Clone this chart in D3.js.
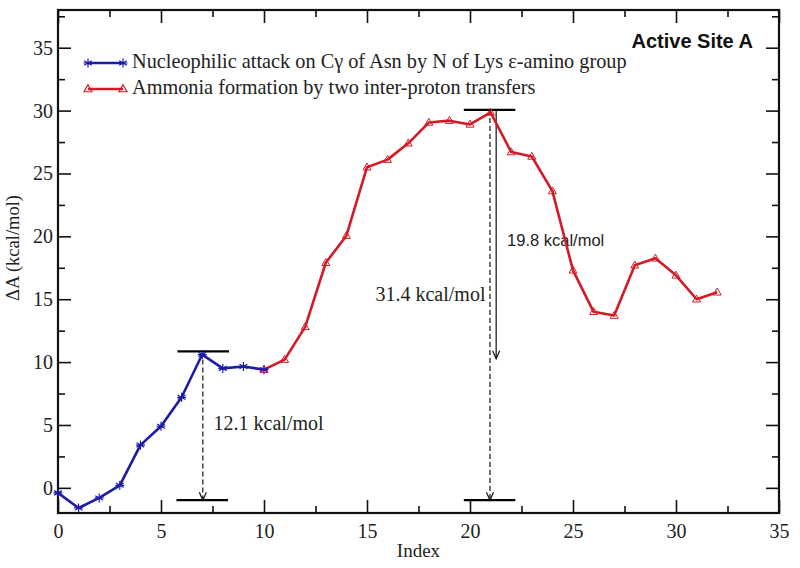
<!DOCTYPE html>
<html>
<head>
<meta charset="utf-8">
<script src="https://cdn.jsdelivr.net/npm/d3@7"></script>
<style>
  body { margin: 0; background: #fff; }
  svg { display: block; }
</style>
</head>
<body>
<svg id="chart" width="800" height="568"></svg>
<script>
// series 1: nucleophilic attack (index 0..10)
const blueIndex = [0, 1, 2, 3, 4, 5, 6, 7, 8, 9, 10];
const blueValues = [-0.4, -1.6, -0.8, 0.2, 3.4, 4.9, 7.2, 10.6, 9.5, 9.65, 9.4];

// series 2: ammonia formation (index 10..32)
const redIndex = [10, 11, 12, 13, 14, 15, 16, 17, 18, 19, 20, 21, 22, 23, 24, 25, 26, 27, 28, 29, 30, 31, 32];
const redValues = [9.4, 10.2, 12.8, 17.9, 20.05, 25.5, 26.1, 27.4, 29.05, 29.2, 28.9, 29.85, 26.7, 26.35, 23.6, 17.3, 14.0, 13.7, 17.7, 18.25, 16.9, 15.0, 15.55];

const legendLabels = [
    "Nucleophilic attack on C\u03b3 of Asn by N of Lys \u03b5-amino group",
    "Ammonia formation by two inter-proton transfers"
];

const xTicks = [0, 5, 10, 15, 20, 25, 30, 35];
const yTicks = [0, 5, 10, 15, 20, 25, 30, 35];

// energy barrier markers
const barrierLevels = [
    {x0: 5.8, x1: 8.3, y: 10.85},
    {x0: 5.75, x1: 8.25, y: -0.98},
    {x0: 19.7, x1: 22.2, y: 30.05},
    {x0: 19.7, x1: 22.2, y: -0.98}
];
const barrierArrows = [
    {x: 7.03, from: 10.85, to: -0.98, dashed: true},
    {x: 20.97, from: 30.05, to: -0.98, dashed: true},
    {x: 21.27, from: 30.0, to: 10.26, dashed: false}
];
const barrierLabels = [
    {x: 7.55, y: 4.95, text: "12.1 kcal/mol", anchor: "start", font: "'Liberation Serif', 'Times New Roman', serif", size: 20},
    {x: 20.75, y: 15.2, text: "31.4 kcal/mol", anchor: "end", font: "'Liberation Serif', 'Times New Roman', serif", size: 20},
    {x: 21.8, y: 19.6, text: "19.8 kcal/mol", anchor: "start", font: "'Liberation Sans', Arial, sans-serif", size: 16.5}
];

const blueColor = "#1c1ca8";
const redColor = "#d41a24";
const serif = "'Liberation Serif', 'Times New Roman', serif";

const margin = {top: 10, right: 21, bottom: 55, left: 58};
const width = 800, height = 568;

const svg = d3.select("#chart");

const x = d3.scaleLinear().domain([0, 35]).range([margin.left, width - margin.right]);
const y = d3.scaleLinear().domain([-2, 38]).range([height - margin.bottom, margin.top]);

const minorX = [2.5, 7.5, 12.5, 17.5, 22.5, 27.5, 32.5];
const minorY = [2.5, 7.5, 12.5, 17.5, 22.5, 27.5, 32.5, 37.5];

// axes with inward ticks
const axisG = svg.append("g").attr("class", "axes");

const bottomAxis = d3.axisBottom(x).tickValues(xTicks).tickSize(-13).tickPadding(11).tickFormat(d3.format("d"));
const leftAxis = d3.axisLeft(y).tickValues(yTicks).tickSize(-13).tickPadding(5).tickFormat(d3.format("d"));

axisG.append("g").attr("transform", `translate(0,${y(-2)})`).call(bottomAxis);
axisG.append("g").attr("transform", `translate(${x(0)},0)`).call(leftAxis);
axisG.append("g").attr("transform", `translate(0,${y(38)})`)
    .call(d3.axisTop(x).tickValues(xTicks).tickSize(-13).tickFormat(""));
axisG.append("g").attr("transform", `translate(${x(35)},0)`)
    .call(d3.axisRight(y).tickValues(yTicks).tickSize(-13).tickFormat(""));

axisG.append("g").attr("transform", `translate(0,${y(-2)})`)
    .call(d3.axisBottom(x).tickValues(minorX).tickSize(-7).tickFormat(""));
axisG.append("g").attr("transform", `translate(0,${y(38)})`)
    .call(d3.axisTop(x).tickValues(minorX).tickSize(-7).tickFormat(""));
axisG.append("g").attr("transform", `translate(${x(0)},0)`)
    .call(d3.axisLeft(y).tickValues(minorY).tickSize(-7).tickFormat(""));
axisG.append("g").attr("transform", `translate(${x(35)},0)`)
    .call(d3.axisRight(y).tickValues(minorY).tickSize(-7).tickFormat(""));

axisG.selectAll(".domain").remove();
axisG.selectAll("g").attr("font-family", null).attr("font-size", null);
axisG.selectAll(".tick line").attr("stroke", "#111").attr("stroke-width", 1.6);
axisG.selectAll(".tick text")
    .attr("fill", "#222")
    .style("font-family", serif)
    .style("font-size", "20px");

// frame
svg.append("rect")
    .attr("x", x(0)).attr("y", y(38))
    .attr("width", x(35) - x(0)).attr("height", y(-2) - y(38))
    .attr("fill", "none").attr("stroke", "#111").attr("stroke-width", 2.2);

// axis titles
svg.append("text")
    .attr("x", (x(0) + x(35)) / 2).attr("y", 557)
    .attr("text-anchor", "middle")
    .style("font-family", serif).style("font-size", "19px").attr("fill", "#222")
    .text("Index");

svg.append("text")
    .attr("transform", "translate(15,248) rotate(-90)")
    .attr("text-anchor", "middle")
    .attr("dominant-baseline", "middle")
    .style("font-family", serif).style("font-size", "18.5px").attr("fill", "#222")
    .text("\u0394A (kcal/mol)");

// barrier annotations
const annot = svg.append("g").attr("class", "annotations");
annot.selectAll("line.level")
    .data(barrierLevels)
    .join("line")
    .attr("class", "level")
    .attr("x1", d => x(d.x0)).attr("x2", d => x(d.x1))
    .attr("y1", d => y(d.y)).attr("y2", d => y(d.y))
    .attr("stroke", "#000").attr("stroke-width", 2.2);

annot.selectAll("line.arrow")
    .data(barrierArrows)
    .join("line")
    .attr("class", "arrow")
    .attr("x1", d => x(d.x)).attr("x2", d => x(d.x))
    .attr("y1", d => y(d.from)).attr("y2", d => y(d.to))
    .attr("stroke", "#111").attr("stroke-width", 1.2)
    .attr("stroke-dasharray", d => d.dashed ? "5,3" : null);

annot.selectAll("path.head")
    .data(barrierArrows)
    .join("path")
    .attr("class", "head")
    .attr("d", d => {
        const px = x(d.x), py = y(d.to);
        return `M${px - 3.5},${py - 8}L${px},${py}L${px + 3.5},${py - 8}`;
    })
    .attr("fill", "none").attr("stroke", "#111").attr("stroke-width", 1.2);

annot.selectAll("text")
    .data(barrierLabels)
    .join("text")
    .attr("x", d => x(d.x)).attr("y", d => y(d.y))
    .attr("text-anchor", d => d.anchor)
    .attr("dominant-baseline", "middle")
    .style("font-family", d => d.font)
    .style("font-size", d => d.size + "px")
    .attr("fill", "#222")
    .text(d => d.text);

// curves
const line = d3.line().x(d => x(d[0])).y(d => y(d[1]));
const blueData = blueIndex.map((v, i) => [v, blueValues[i]]);
const redData = redIndex.map((v, i) => [v, redValues[i]]);

const plot = svg.append("g").attr("class", "series");

plot.append("path").datum(redData)
    .attr("d", line).attr("fill", "none")
    .attr("stroke", redColor).attr("stroke-width", 2.6).attr("stroke-linejoin", "round");

plot.append("path").datum(blueData)
    .attr("d", line).attr("fill", "none")
    .attr("stroke", blueColor).attr("stroke-width", 2.6).attr("stroke-linejoin", "round");

const starPath = (cx, cy, r) => {
    let p = "";
    [0, 60, 120].forEach(a => {
        const rad = a * Math.PI / 180, dx = r * Math.sin(rad), dy = r * Math.cos(rad);
        p += `M${cx - dx},${cy - dy}L${cx + dx},${cy + dy}`;
    });
    p += `M${cx - r},${cy}L${cx + r},${cy}`;
    return p;
};
const triPath = (cx, cy, r) =>
    `M${cx},${cy - r}L${cx + r * 0.95},${cy + r * 0.65}L${cx - r * 0.95},${cy + r * 0.65}Z`;

plot.selectAll("path.tri")
    .data(redData)
    .join("path")
    .attr("class", "tri")
    .attr("d", d => triPath(x(d[0]), y(d[1]), 4.2))
    .attr("fill", "none").attr("stroke", redColor).attr("stroke-width", 1);

plot.selectAll("path.star")
    .data(blueData)
    .join("path")
    .attr("class", "star")
    .attr("d", d => starPath(x(d[0]), y(d[1]), 4.5))
    .attr("fill", "none").attr("stroke", blueColor).attr("stroke-width", 1.2);

// legend
const legend = svg.append("g").attr("class", "legend");
const legendRows = [
    {label: legendLabels[0], color: blueColor, marker: "star", y: 63},
    {label: legendLabels[1], color: redColor, marker: "tri", y: 89}
];
legendRows.forEach(row => {
    legend.append("line")
        .attr("x1", 88).attr("x2", 123).attr("y1", row.y).attr("y2", row.y)
        .attr("stroke", row.color).attr("stroke-width", 2.6);
    [88, 123].forEach(mx => {
        legend.append("path")
            .attr("d", row.marker === "star" ? starPath(mx, row.y, 4.5) : triPath(mx, row.y, 4.2))
            .attr("fill", "none").attr("stroke", row.color).attr("stroke-width", 1.2);
    });
    legend.append("text")
        .attr("x", 132).attr("y", row.y)
        .attr("dominant-baseline", "middle")
        .style("font-family", serif).style("font-size", "20.3px").attr("fill", "#222")
        .text(row.label);
});

svg.append("text")
    .attr("x", 753).attr("y", 48)
    .attr("text-anchor", "end")
    .style("font-family", "'Liberation Sans', Arial, sans-serif")
    .style("font-size", "20px").style("font-weight", "bold")
    .attr("fill", "#111")
    .text("Active Site A");
</script>
</body>
</html>
